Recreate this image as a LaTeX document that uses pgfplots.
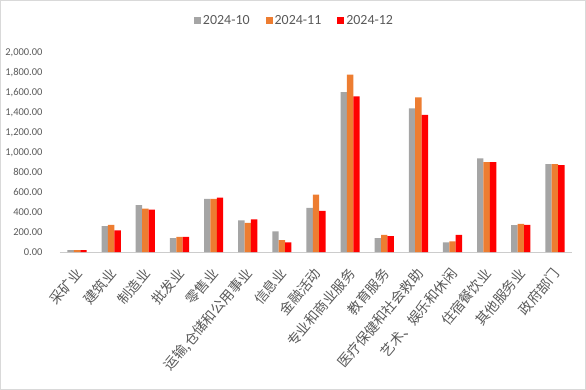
\documentclass[border=0pt]{standalone}
\usepackage{pgfplots}
\pgfplotsset{compat=1.18}
\usepackage{fontspec}
\setmainfont{Carlito}
\newfontfamily\cjk{Noto Sans CJK SC}
\definecolor{sgray}{HTML}{A5A5A5}
\definecolor{sorange}{HTML}{ED7D31}
\definecolor{sred}{HTML}{FF0000}
\definecolor{txt}{HTML}{595959}
\begin{document}
\begin{tikzpicture}
\path[use as bounding box] (-60bp,-138bp) rectangle (526bp,252bp);
\draw[black!15, line width=1.5bp] (-59.25bp,-137.25bp) rectangle (525.25bp,251.25bp);
\begin{axis}[at={(0,0)}, anchor=south west, scale only axis,
  width=512bp, height=199bp,
  xmin=-0.5, xmax=14.5, ymin=0, ymax=2000, ytick={0,200,...,2000},
  ybar=0pt, bar width=6.4bp,
  axis lines*=left,
  x axis line style={black!20, line width=0.8bp},
  y axis line style={draw=none},
  major tick length=0pt,
  xtick={0,...,14},
  xticklabels={采矿业,建筑业,制造业,批发业,零售业,{运输,仓储和公用事业},信息业,金融活动,专业和商业服务,教育服务,医疗保健和社会救助,艺术、娱乐和休闲,住宿餐饮业,其他服务业,政府部门},
  xticklabel style={font=\cjk\fontsize{13.8}{13.8}\selectfont, yshift=-16bp, xshift=4bp, rotate=50, anchor=east, text=txt},
  yticklabel style={font=\fontsize{10.5}{10.5}\selectfont, text=txt, xshift=-14bp,
    /pgf/number format/fixed, /pgf/number format/fixed zerofill,
    /pgf/number format/precision=2, /pgf/number format/1000 sep={,}},
  /pgf/number format/assume math mode=true,
  legend columns=3,
  legend style={draw=none, fill=none, at={(0.458,1.161)}, anchor=center,
    font=\fontsize{14}{14}\selectfont, text=txt,
    /tikz/every even column/.append style={column sep=14bp}},
  legend image code/.code={\fill[#1] (0bp,-3.5bp) rectangle (7bp,3.5bp);},
]
\addplot[fill=sgray, draw=none] coordinates {(0,18) (1,260) (2,470) (3,140) (4,533) (5,317) (6,207) (7,443) (8,1607) (9,140) (10,1443) (11,97) (12,940) (13,270) (14,883)};
\addplot[fill=sorange, draw=none] coordinates {(0,20) (1,273) (2,437) (3,153) (4,533) (5,293) (6,120) (7,577) (8,1783) (9,173) (10,1553) (11,107) (12,903) (13,283) (14,883)};
\addplot[fill=sred, draw=none] coordinates {(0,20) (1,217) (2,427) (3,153) (4,547) (5,327) (6,97) (7,413) (8,1563) (9,160) (10,1377) (11,173) (12,903) (13,273) (14,873)};
\legend{2024-10,2024-11,2024-12}
\end{axis}
\end{tikzpicture}
\end{document}
